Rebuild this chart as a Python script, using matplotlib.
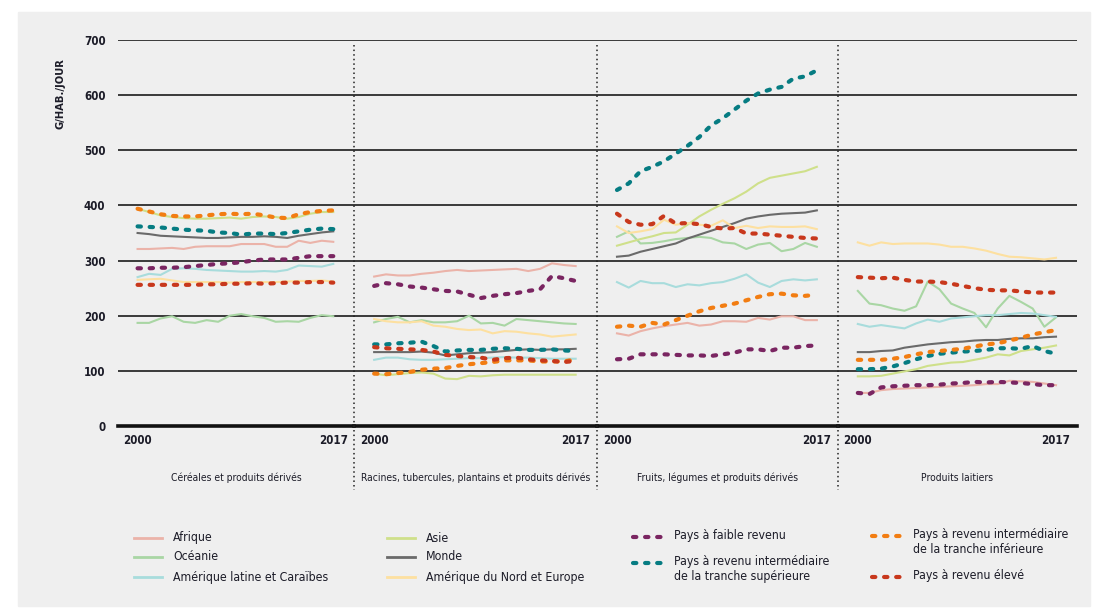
import numpy as np
import matplotlib
matplotlib.use('Agg')
import matplotlib.pyplot as plt
from matplotlib.lines import Line2D
from matplotlib.patches import Rectangle

plt.rcParams['font.family'] = ['DejaVu Sans']
plt.rcParams['font.stretch'] = 'condensed'

years = np.arange(2000, 2018)

panels = ['Céréales et produits dérivés',
          'Racines, tubercules, plantains et produits dérivés',
          'Fruits, légumes et produits dérivés',
          'Produits laitiers']

# g/hab./jour, un tableau par série, une ligne par panneau
afrique = [
    [321, 321, 322, 323, 321, 325, 326, 326, 326, 330, 330, 330, 325, 325, 336, 332, 336, 334],
    [271, 275, 273, 273, 276, 278, 281, 283, 281, 282, 283, 284, 285, 281, 285, 295, 292, 290],
    [168, 164, 172, 177, 181, 184, 187, 182, 184, 190, 190, 189, 196, 193, 199, 199, 192, 192],
    [60, 60, 65, 67, 68, 69, 70, 71, 72, 73, 74, 76, 76, 82, 81, 80, 77, 74],
]
oceanie = [
    [187, 187, 195, 199, 189, 187, 192, 189, 200, 203, 199, 196, 189, 190, 189, 196, 201, 199],
    [188, 194, 198, 188, 192, 188, 188, 190, 200, 186, 187, 182, 194, 192, 190, 188, 186, 185],
    [343, 353, 331, 332, 335, 339, 341, 343, 341, 333, 331, 321, 329, 332, 317, 321, 332, 325],
    [245, 222, 219, 213, 209, 217, 262, 248, 222, 213, 205, 179, 213, 236, 225, 213, 180, 197],
]
amlat = [
    [270, 276, 274, 285, 286, 285, 283, 282, 281, 280, 280, 281, 280, 283, 291, 290, 289, 294],
    [120, 124, 124, 121, 120, 120, 121, 122, 123, 123, 124, 125, 124, 124, 123, 122, 122, 122],
    [261, 251, 263, 259, 259, 252, 257, 255, 259, 261, 267, 275, 260, 252, 263, 266, 264, 266],
    [185, 180, 183, 180, 177, 186, 193, 189, 195, 197, 199, 201, 201, 203, 205, 204, 201, 198],
]
asie = [
    [394, 388, 382, 379, 377, 376, 376, 377, 378, 376, 379, 380, 379, 376, 379, 385, 388, 388],
    [95, 92, 94, 96, 97, 95, 86, 85, 91, 90, 92, 93, 93, 93, 93, 93, 93, 93],
    [327, 333, 339, 344, 350, 351, 365, 380, 392, 403, 413, 425, 440, 450, 454, 458, 462, 470],
    [90, 90, 91, 95, 99, 103, 109, 112, 115, 116, 120, 124, 130, 128, 136, 139, 142, 146],
]
monde = [
    [350, 348, 345, 344, 343, 342, 341, 341, 342, 343, 343, 344, 343, 341, 345, 348, 351, 353],
    [134, 134, 134, 134, 135, 133, 128, 130, 132, 133, 134, 136, 138, 139, 138, 139, 139, 140],
    [307, 309, 316, 321, 326, 331, 340, 347, 354, 361, 368, 376, 380, 383, 385, 386, 387, 391],
    [134, 134, 136, 137, 142, 145, 148, 150, 152, 153, 155, 156, 156, 158, 159, 159, 161, 162],
]
amnord = [
    [265, 266, 267, 264, 261, 261, 261, 261, 260, 261, 261, 261, 261, 262, 263, 263, 264, 262],
    [194, 190, 188, 188, 190, 182, 180, 176, 174, 175, 168, 172, 171, 168, 166, 162, 164, 166],
    [362, 350, 353, 357, 374, 365, 368, 365, 363, 373, 359, 363, 359, 362, 361, 361, 362, 357],
    [333, 327, 333, 330, 331, 331, 331, 329, 325, 325, 322, 318, 312, 307, 306, 304, 302, 305],
]
faible = [
    [286, 286, 287, 287, 288, 290, 292, 294, 295, 297, 300, 302, 302, 302, 305, 308, 308, 308],
    [254, 259, 257, 253, 251, 248, 245, 244, 238, 232, 236, 239, 241, 245, 248, 272, 268, 263],
    [121, 122, 130, 130, 130, 129, 128, 128, 127, 130, 133, 139, 139, 136, 142, 142, 145, 146],
    [60, 58, 70, 72, 73, 74, 74, 75, 77, 78, 80, 79, 80, 79, 78, 76, 74, 74],
]
inter_sup = [
    [362, 361, 360, 358, 356, 355, 354, 351, 350, 347, 349, 349, 348, 350, 353, 356, 358, 357],
    [148, 148, 150, 151, 153, 145, 135, 137, 138, 138, 140, 141, 140, 138, 138, 139, 137, 136],
    [428, 440, 462, 470, 480, 494, 508, 524, 545, 558, 574, 590, 603, 610, 615, 630, 634, 645],
    [103, 103, 104, 108, 114, 121, 127, 131, 133, 135, 136, 138, 141, 141, 140, 145, 136, 131],
]
inter_inf = [
    [394, 389, 384, 381, 380, 380, 382, 384, 385, 384, 385, 382, 378, 377, 384, 388, 390, 391],
    [95, 94, 96, 98, 102, 104, 105, 109, 112, 114, 116, 119, 119, 119, 117, 117, 117, 121],
    [180, 182, 180, 187, 184, 192, 200, 208, 214, 218, 222, 228, 234, 239, 240, 237, 236, 238],
    [120, 120, 120, 122, 125, 130, 134, 136, 138, 140, 144, 148, 150, 155, 160, 166, 170, 174],
]
eleve = [
    [256, 256, 256, 256, 256, 256, 257, 257, 258, 258, 259, 258, 259, 260, 260, 261, 261, 260],
    [143, 141, 140, 139, 138, 135, 129, 127, 125, 124, 120, 123, 124, 121, 119, 118, 116, 118],
    [385, 370, 365, 366, 381, 367, 368, 366, 361, 358, 359, 349, 349, 347, 345, 343, 341, 340],
    [270, 269, 268, 269, 265, 262, 262, 261, 258, 254, 250, 247, 246, 246, 244, 242, 242, 242],
]

solid_series = [
    ('Afrique', afrique, '#ebb3a9'),
    ('Océanie', oceanie, '#a9d6a4'),
    ('Amérique latine et Caraïbes', amlat, '#a8dcdc'),
    ('Asie', asie, '#cfe08a'),
    ('Monde', monde, '#6a6a6a'),
    ('Amérique du Nord et Europe', amnord, '#fde0a0'),
]
dash_series = [
    ('Pays à faible revenu', faible, '#7a2561'),
    ('Pays à revenu intermédiaire\nde la tranche supérieure', inter_sup, '#067c82'),
    ('Pays à revenu intermédiaire\nde la tranche inférieure', inter_inf, '#f27d12'),
    ('Pays à revenu élevé', eleve, '#c8381c'),
]

W, H = 1095, 610
fig = plt.figure(figsize=(W / 100, H / 100), dpi=100)
fig.patches.append(Rectangle((18 / W, 1 - 606 / H), 1072 / W, 594 / H,
                             transform=fig.transFigure, color='#efefef', zorder=-10))

def fx(px):
    return px / W

def fy(py):
    return 1 - py / H

edges = [118, 354, 597, 838, 1077]
y_top, y_bot = 40, 426
dash_kw = dict(lw=3.0, dashes=(0.8, 2.1), dash_capstyle='round')
txt_col = '#1c1c28'

for i in range(4):
    ax = fig.add_axes([fx(edges[i]), fy(y_bot), fx(edges[i + 1] - edges[i]),
                       (y_bot - y_top) / H])
    ax.set_facecolor('none')
    ax.set_xlim(1998.3, 2018.8)
    ax.set_ylim(0, 700)
    for s in ax.spines.values():
        s.set_visible(False)
    for v in range(100, 800, 100):
        ax.axhline(v, color='#2b2b2b', lw=1.3, zorder=1)
    ax.axhline(0, color='#111111', lw=2.6, zorder=1, clip_on=False)
    for name, data, col in solid_series:
        ax.plot(years, data[i], color=col, lw=1.5, zorder=2)
    for name, data, col in dash_series:
        ax.plot(years, data[i], color=col, zorder=3, **dash_kw)
    ax.set_xticks([2000, 2017])
    ax.set_xticklabels(['2000', '2017'], fontsize=8.3, fontweight='bold',
                       color=txt_col)
    ax.tick_params(axis='x', length=0, pad=6)
    if i == 0:
        ax.set_yticks(range(0, 800, 100))
        ax.set_yticklabels([str(v) for v in range(0, 800, 100)],
                           fontsize=8.3, fontweight='bold', color=txt_col)
        ax.tick_params(axis='y', length=0, pad=9)
    else:
        ax.set_yticks([])
    fig.text(fx((edges[i] + edges[i + 1]) / 2), fy(478), panels[i],
             ha='center', va='center', fontsize=7.4, color=txt_col)

# séparateurs pointillés
for x in edges[1:4]:
    fig.add_artist(Line2D([fx(x), fx(x)], [fy(45), fy(490)], color='#222222',
                          lw=1.1, ls=(0, (1, 2)), transform=fig.transFigure))

fig.text(fx(60), fy(94), 'G/HAB./JOUR', rotation=90, ha='center', va='center',
         fontsize=8, fontweight='bold', color=txt_col)

# légende
legend_pos = [(134, 538), (134, 557), (134, 577), (387, 538), (387, 557), (387, 577)]
for (name, data, col), (lx, ly) in zip(solid_series, legend_pos):
    fig.add_artist(Line2D([fx(lx), fx(lx + 28)], [fy(ly), fy(ly)], color=col,
                          lw=2, transform=fig.transFigure))
    fig.text(fx(lx + 39), fy(ly), name, ha='left', va='center', fontsize=8.8,
             color=txt_col)

legend_pos = [(633, 537), (633, 563), (872, 536), (872, 577)]
for (name, data, col), (lx, ly) in zip(dash_series, legend_pos):
    fig.add_artist(Line2D([fx(lx), fx(lx + 28)], [fy(ly), fy(ly)], color=col,
                          transform=fig.transFigure, **dash_kw))
    fig.text(fx(lx + 41), fy(ly - 8), name, ha='left', va='top', fontsize=8.8,
             linespacing=1.2, color=txt_col)

fig.savefig('out.png', dpi=100)
